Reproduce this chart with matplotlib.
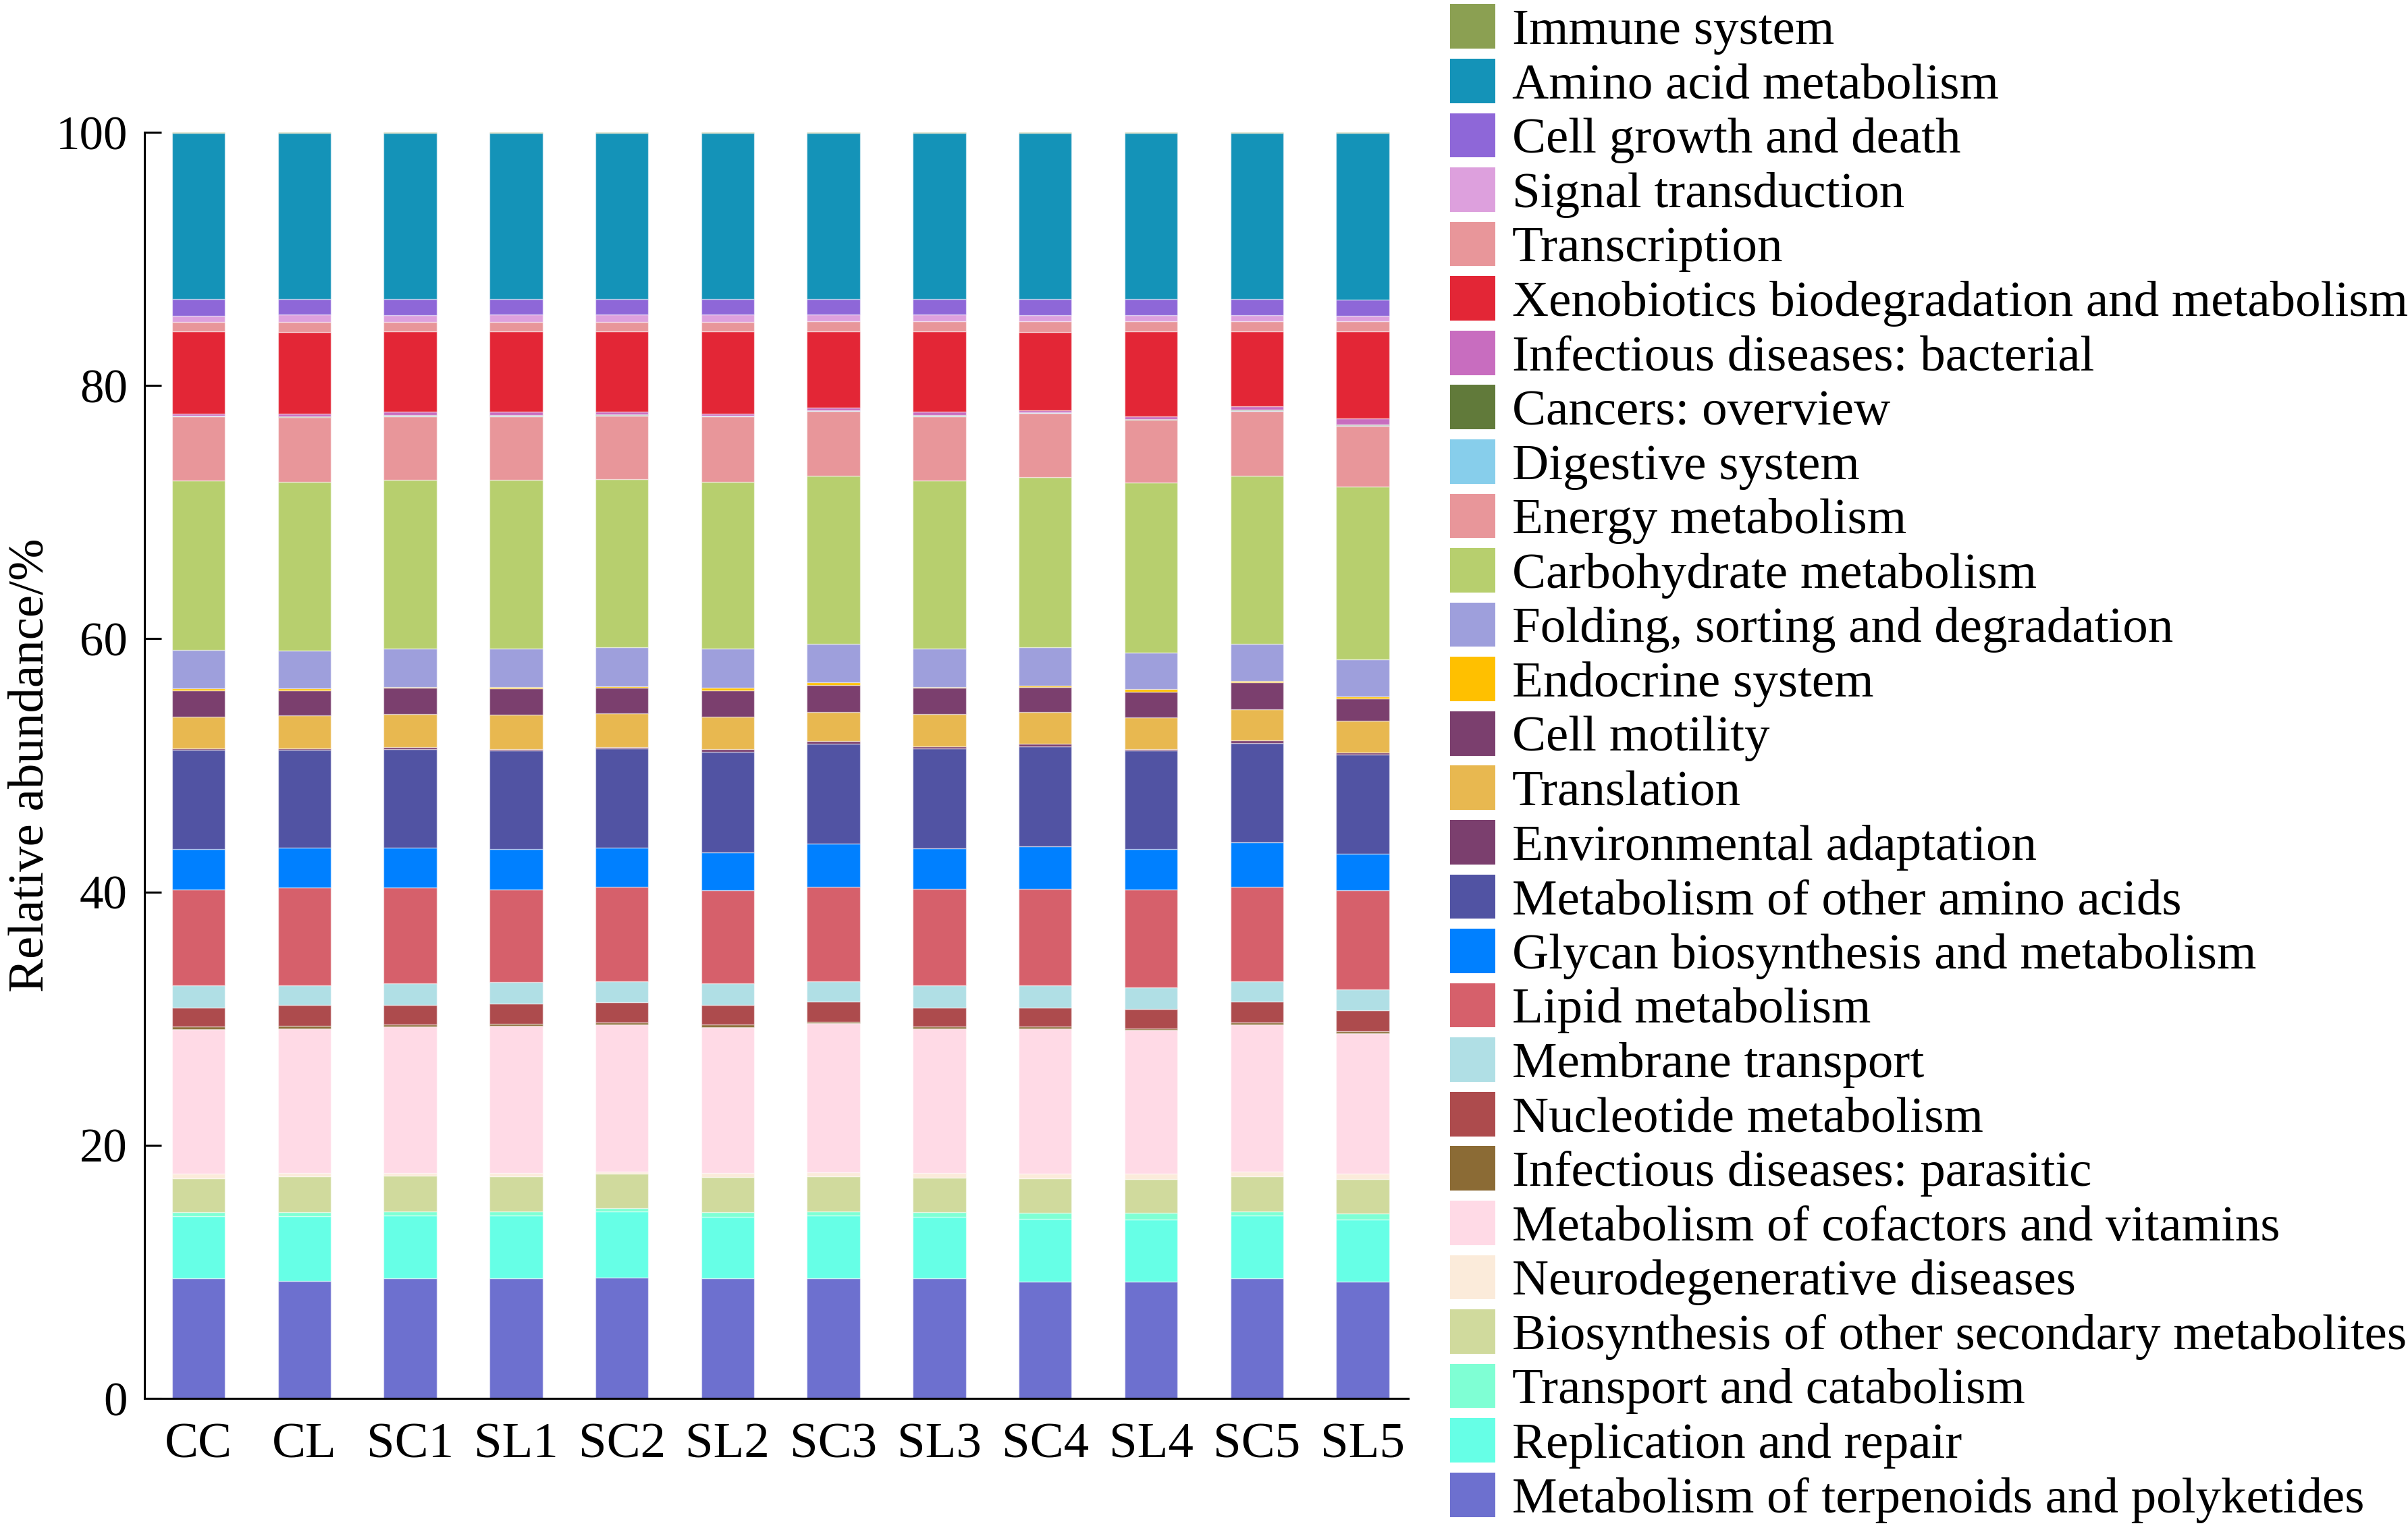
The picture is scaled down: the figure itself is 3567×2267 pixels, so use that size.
"""Stacked bar chart of KEGG level-2 pathway relative abundance per sample."""

import matplotlib

matplotlib.use("Agg")

import matplotlib.pyplot as plt
from matplotlib.patches import Patch

plt.rcParams["font.family"] = ["Liberation Serif", "DejaVu Serif"]

samples = ["CC", "CL", "SC1", "SL1", "SC2", "SL2", "SC3", "SL3", "SC4", "SL4", "SC5", "SL5"]

# Relative abundance (%) per pathway, one value per sample (bottom of stack first)
terpenoids = [9.49, 9.30, 9.49, 9.49, 9.54, 9.49, 9.49, 9.49, 9.24, 9.24, 9.49, 9.24]
replication = [4.89, 5.08, 4.94, 4.94, 5.25, 4.86, 4.94, 4.86, 4.94, 4.89, 4.94, 4.89]
transport_catabolism = [0.34, 0.34, 0.36, 0.36, 0.25, 0.39, 0.36, 0.37, 0.49, 0.54, 0.36, 0.49]
secondary_metabolites = [2.64, 2.84, 2.81, 2.77, 2.69, 2.74, 2.77, 2.69, 2.69, 2.64, 2.77, 2.69]
neurodegenerative = [0.37, 0.24, 0.20, 0.24, 0.19, 0.32, 0.29, 0.39, 0.37, 0.42, 0.36, 0.42]
cofactors = [11.43, 11.41, 11.59, 11.64, 11.64, 11.52, 11.78, 11.41, 11.48, 11.36, 11.64, 11.12]
parasitic = [0.21, 0.23, 0.15, 0.17, 0.12, 0.19, 0.12, 0.18, 0.18, 0.12, 0.12, 0.17]
nucleotide = [1.50, 1.62, 1.56, 1.56, 1.61, 1.59, 1.59, 1.48, 1.48, 1.54, 1.66, 1.61]
membrane = [1.73, 1.59, 1.67, 1.71, 1.66, 1.71, 1.61, 1.73, 1.73, 1.73, 1.61, 1.67]
lipid = [7.57, 7.71, 7.59, 7.29, 7.45, 7.31, 7.48, 7.64, 7.64, 7.71, 7.48, 7.82]
glycan = [3.20, 3.13, 3.13, 3.20, 3.09, 3.01, 3.37, 3.20, 3.37, 3.18, 3.48, 2.89]
other_amino = [7.85, 7.73, 7.78, 7.83, 7.83, 7.95, 7.90, 7.88, 7.90, 7.78, 7.83, 7.83]
environmental = [0.10, 0.10, 0.17, 0.07, 0.14, 0.19, 0.23, 0.19, 0.19, 0.12, 0.22, 0.19]
translation = [2.51, 2.63, 2.63, 2.73, 2.66, 2.56, 2.30, 2.56, 2.49, 2.51, 2.49, 2.49]
motility = [2.09, 1.97, 2.04, 2.09, 2.01, 2.09, 2.14, 2.04, 2.01, 2.04, 2.09, 1.78]
endocrine = [0.17, 0.17, 0.07, 0.09, 0.12, 0.19, 0.19, 0.09, 0.12, 0.19, 0.14, 0.12]
folding = [3.01, 2.99, 3.06, 3.04, 3.06, 3.11, 3.06, 3.02, 2.99, 2.90, 2.94, 2.97]
carbohydrate = [13.38, 13.30, 13.32, 13.31, 13.30, 13.18, 13.26, 13.26, 13.43, 13.42, 13.26, 13.61]
energy = [5.08, 5.11, 5.00, 5.03, 5.02, 5.16, 5.10, 5.08, 5.10, 4.94, 5.10, 4.84]
digestive = [0.04, 0.04, 0.05, 0.05, 0.04, 0.04, 0.04, 0.05, 0.03, 0.04, 0.05, 0.05]
cancers = [0.04, 0.04, 0.05, 0.05, 0.04, 0.04, 0.04, 0.05, 0.03, 0.04, 0.05, 0.05]
bacterial = [0.15, 0.20, 0.25, 0.25, 0.23, 0.15, 0.21, 0.25, 0.13, 0.21, 0.26, 0.45]
xenobiotics = [6.48, 6.48, 6.36, 6.36, 6.33, 6.48, 6.00, 6.36, 6.17, 6.71, 5.93, 6.88]
transcription = [0.78, 0.78, 0.78, 0.78, 0.78, 0.78, 0.83, 0.83, 0.90, 0.83, 0.83, 0.83]
signal = [0.45, 0.57, 0.52, 0.57, 0.57, 0.57, 0.52, 0.52, 0.45, 0.47, 0.47, 0.43]
cell_growth = [1.36, 1.24, 1.29, 1.24, 1.24, 1.24, 1.24, 1.24, 1.31, 1.29, 1.29, 1.23]
amino_acid = [13.09, 13.09, 13.09, 13.09, 13.09, 13.09, 13.09, 13.09, 13.09, 13.09, 13.09, 13.19]
immune = [0.05, 0.05, 0.05, 0.05, 0.05, 0.05, 0.05, 0.05, 0.05, 0.05, 0.05, 0.05]

# (label, values, colour), bottom to top of each stack
layers = [
    ("Metabolism of terpenoids and polyketides", terpenoids, "#6D70CF"),
    ("Replication and repair", replication, "#66FFE6"),
    ("Transport and catabolism", transport_catabolism, "#7FFFD4"),
    ("Biosynthesis of other secondary metabolites", secondary_metabolites, "#D0DA9D"),
    ("Neurodegenerative diseases", neurodegenerative, "#FBEBDA"),
    ("Metabolism of cofactors and vitamins", cofactors, "#FFDAE6"),
    ("Infectious diseases: parasitic", parasitic, "#8B6B35"),
    ("Nucleotide metabolism", nucleotide, "#AD4B4D"),
    ("Membrane transport", membrane, "#B0DFE5"),
    ("Lipid metabolism", lipid, "#D6606B"),
    ("Glycan biosynthesis and metabolism", glycan, "#0080FF"),
    ("Metabolism of other amino acids", other_amino, "#5153A3"),
    ("Environmental adaptation", environmental, "#7B3F6E"),
    ("Translation", translation, "#E8B850"),
    ("Cell motility", motility, "#7B3F6E"),
    ("Endocrine system", endocrine, "#FFC000"),
    ("Folding, sorting and degradation", folding, "#9E9FDC"),
    ("Carbohydrate metabolism", carbohydrate, "#B7CF6E"),
    ("Energy metabolism", energy, "#E8969A"),
    ("Digestive system", digestive, "#87CEEB"),
    ("Cancers: overview", cancers, "#617A3A"),
    ("Infectious diseases: bacterial", bacterial, "#C86DBF"),
    ("Xenobiotics biodegradation and metabolism", xenobiotics, "#E32636"),
    ("Transcription", transcription, "#E8969A"),
    ("Signal transduction", signal, "#DDA0DD"),
    ("Cell growth and death", cell_growth, "#8E67D8"),
    ("Amino acid metabolism", amino_acid, "#1493B8"),
    ("Immune system", immune, "#8BA052"),
]

TICK_FONT = 51
LABEL_FONT = 54
LEGEND_FONT = 54

fig = plt.figure(figsize=(35.67, 22.67), dpi=100)
ax = fig.add_axes([0.060, 0.086, 0.5248, 0.8275])

x = list(range(len(samples)))
bottom = [0.0] * len(samples)
for label, values, color in layers:
    ax.bar(
        x,
        values,
        width=0.5,
        bottom=bottom,
        color=color,
        edgecolor=(1, 1, 1, 0.45),
        linewidth=1.0,
        label=label,
    )
    bottom = [b + v for b, v in zip(bottom, values)]

ax.set_xlim(-0.51, 11.43)
ax.set_ylim(0, 100)
ax.set_yticks([0, 20, 40, 60, 80, 100])
ax.set_xticks(x)
ax.set_xticklabels(samples)
ax.tick_params(axis="y", direction="in", length=18, width=2.2, labelsize=TICK_FONT, pad=18)
ax.tick_params(axis="x", length=0, labelsize=LABEL_FONT, pad=26)
ax.set_ylabel("Relative abundance/%", fontsize=LABEL_FONT, labelpad=2)
for side in ("top", "right"):
    ax.spines[side].set_visible(False)
for side in ("left", "bottom"):
    ax.spines[side].set_linewidth(2.2)

handles = [Patch(facecolor=c, edgecolor="none") for _, _, c in reversed(layers)]
labels = [lab for lab, _, _ in reversed(layers)]
fig.legend(
    handles,
    labels,
    loc="center left",
    bbox_to_anchor=(2148 / 3567, 0.5009),
    frameon=False,
    fontsize=LEGEND_FONT,
    borderpad=0,
    borderaxespad=0,
    labelspacing=0.08,
    handlelength=0.89,
    handleheight=0.97,
    handletextpad=0.33,
)

fig.savefig("out.png", dpi=100)
plt.close(fig)
